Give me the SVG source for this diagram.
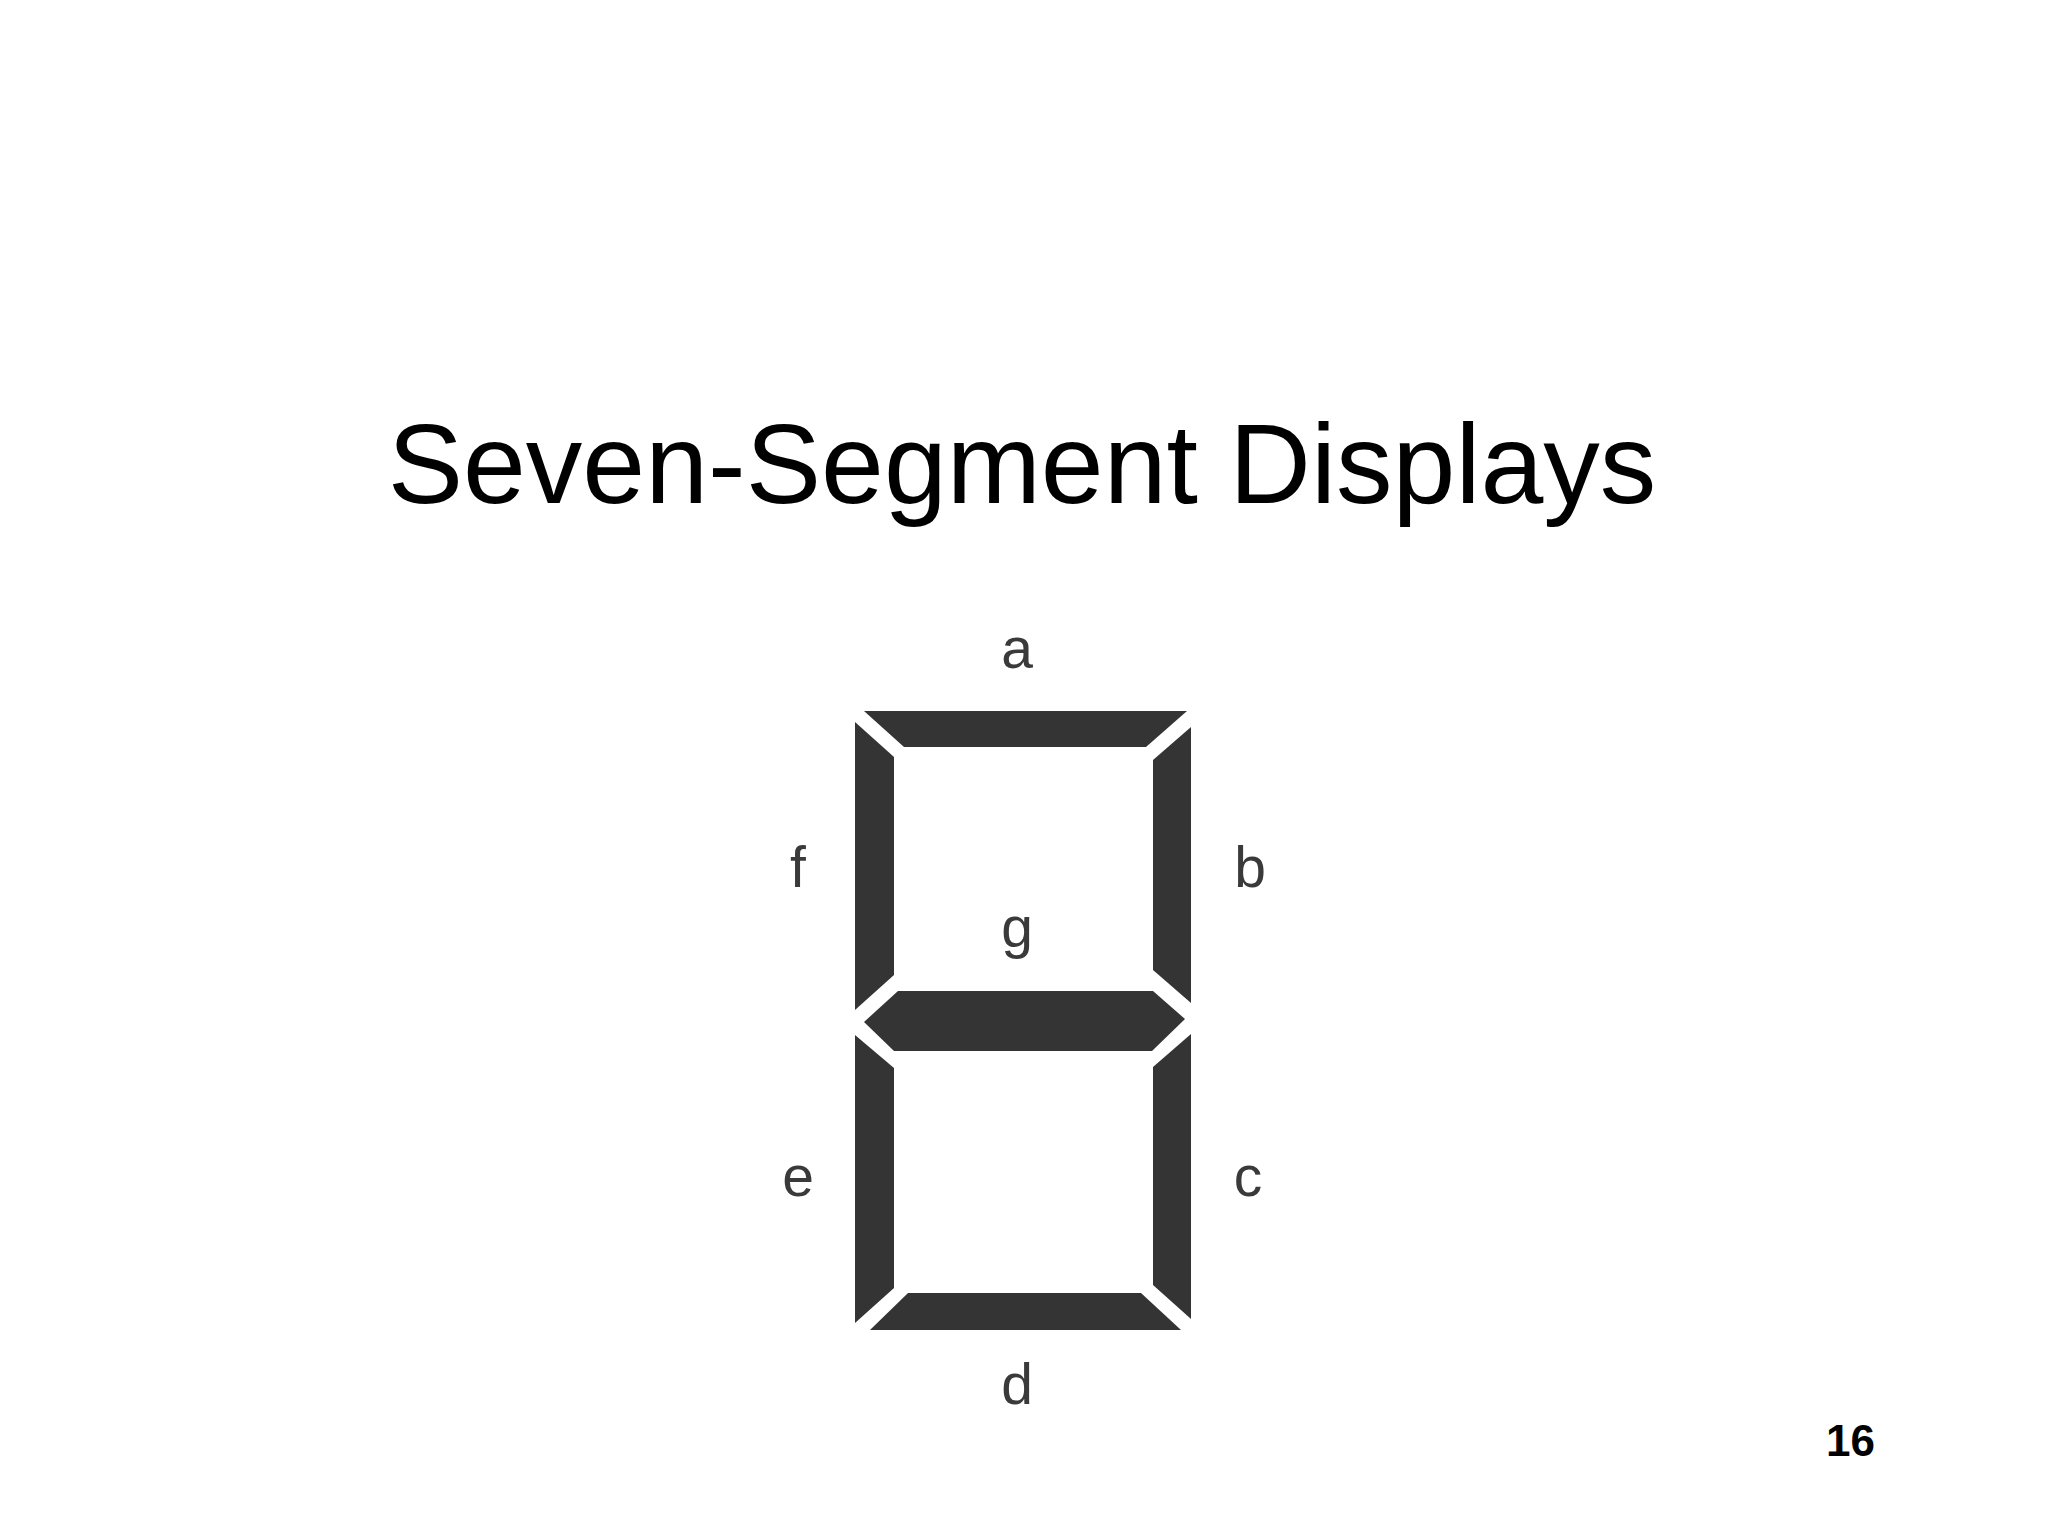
<svg xmlns="http://www.w3.org/2000/svg" width="2048" height="1536" viewBox="0 0 2048 1536">
<style>
.seg{fill:#343434}
.lbl{font-family:"Liberation Sans",Arial,sans-serif;font-size:57px;fill:#3a3a3a;text-anchor:middle}
.title{font-family:"Liberation Sans",Arial,sans-serif;font-size:113px;fill:#000;text-anchor:middle}
.num{font-family:"Liberation Sans",Arial,sans-serif;font-size:44px;font-weight:bold;fill:#000;text-anchor:end}
</style>
<rect width="2048" height="1536" fill="#fff"/>
<text class="title" x="1022" y="503">Seven-Segment Displays</text>
<g id="seg-a"><polygon class="seg" points="864,711 1187,711 1146,747 904,747"/><text class="lbl" x="1017" y="668">a</text></g>
<g id="seg-b"><polygon class="seg" points="1191,727 1191,1003 1153,970 1153,760"/><text class="lbl" x="1250" y="887">b</text></g>
<g id="seg-c"><polygon class="seg" points="1191,1034 1191,1319 1153,1285 1153,1067"/><text class="lbl" x="1248" y="1196">c</text></g>
<g id="seg-d"><polygon class="seg" points="908,1293 1141,1293 1181,1330 870,1330"/><text class="lbl" x="1017" y="1404">d</text></g>
<g id="seg-e"><polygon class="seg" points="855,1035 894,1068 894,1288 855,1323"/><text class="lbl" x="798" y="1196">e</text></g>
<g id="seg-f"><polygon class="seg" points="855,722 894,757 894,975 855,1010"/><text class="lbl" x="798" y="887">f</text></g>
<g id="seg-g"><polygon class="seg" points="898,991 1153,991 1185,1019 1152,1051 894,1051 864,1022"/><text class="lbl" x="1017" y="947">g</text></g>
<g id="connectors"/>
<text class="num" x="1875" y="1456">16</text>
</svg>
